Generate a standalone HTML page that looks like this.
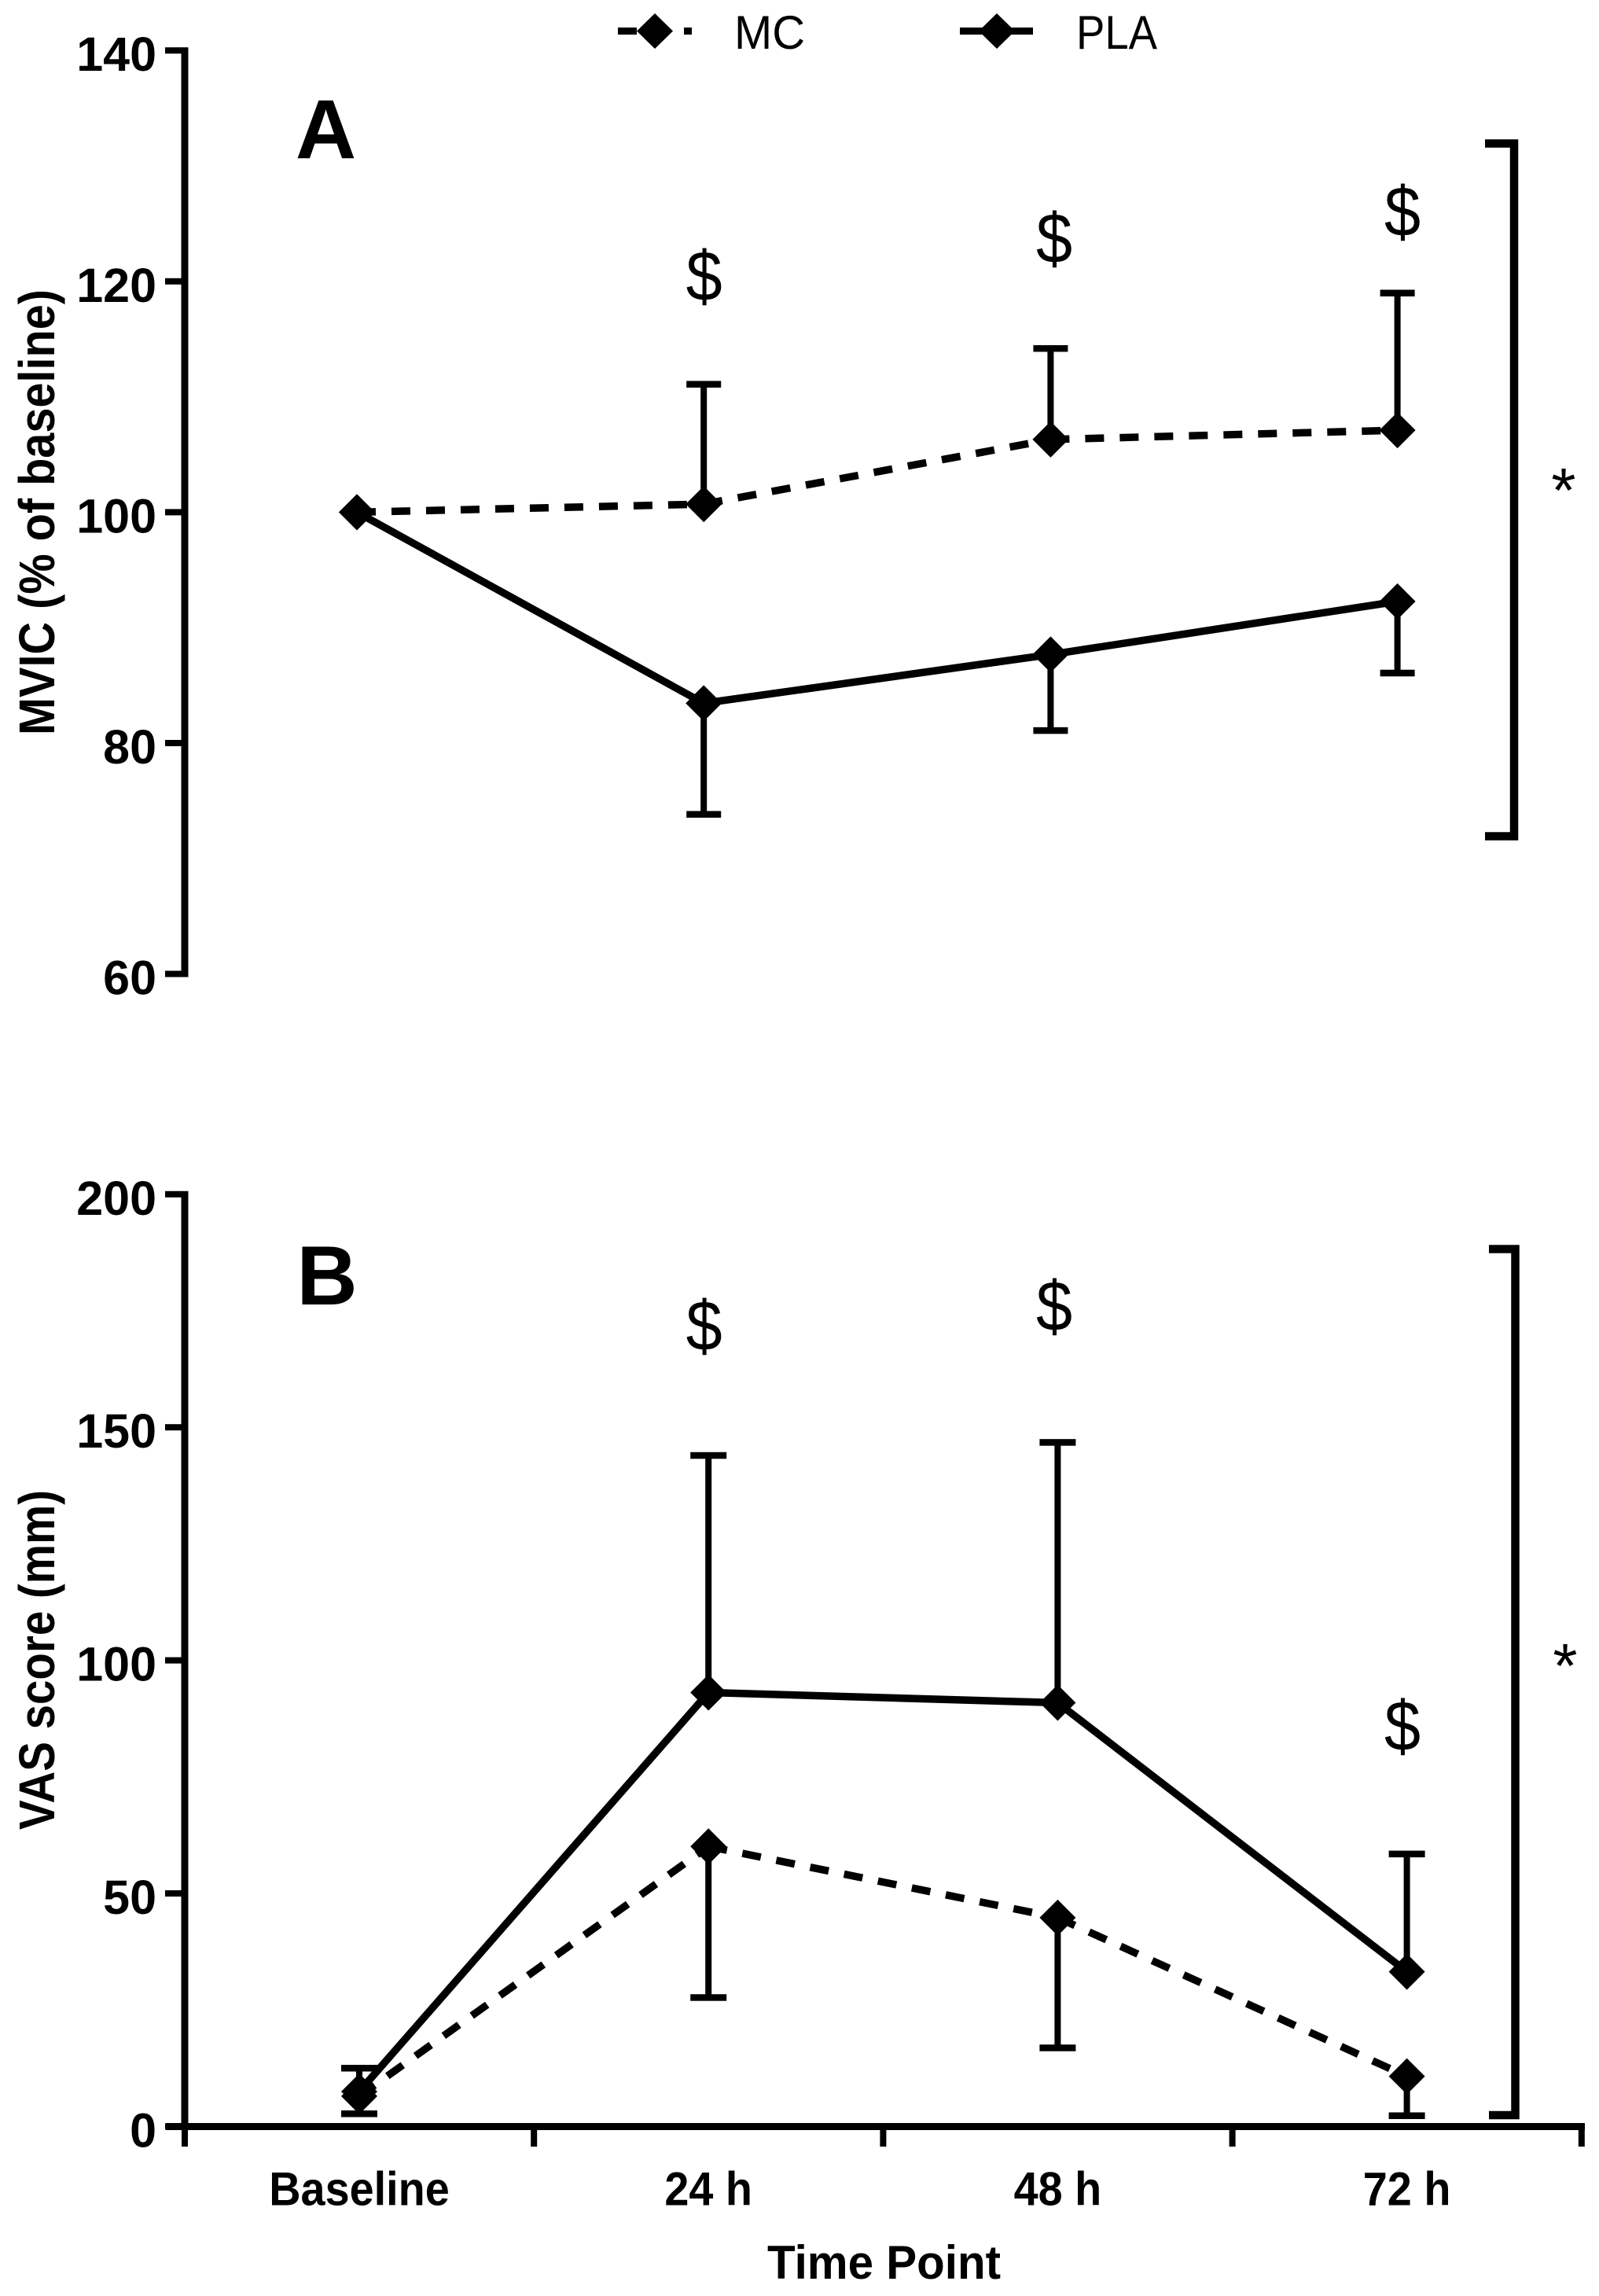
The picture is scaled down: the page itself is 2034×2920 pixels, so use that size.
<!DOCTYPE html>
<html lang="en">
<head>
<meta charset="utf-8">
<title>MVIC and VAS score by time point</title>
<style>
html,body{margin:0;padding:0;background:#fff;width:2034px;height:2920px;overflow:hidden}
svg{display:block}
text{font-family:"Liberation Sans",sans-serif;fill:#000}
</style>
</head>
<body>
<svg id="figure" xmlns="http://www.w3.org/2000/svg" width="2034" height="2920" viewBox="0 0 2034 2920">
  <rect x="0" y="0" width="2034" height="2920" fill="#fff"/>

  <g>
    <g>
      <rect x="786" y="35" width="24" height="9"/>
      <rect x="870" y="35" width="10" height="9"/>
      <path d="M833 17 L856 39.5 L833 62 L810 39.5 Z"/>
      <text x="934" y="62" font-size="60" textLength="90" lengthAdjust="spacingAndGlyphs">MC</text>
    </g>
    <g>
      <rect x="1221" y="35" width="93" height="9"/>
      <path d="M1268 17 L1291 39.5 L1268 62 L1245 39.5 Z"/>
      <text x="1369" y="62" font-size="60" textLength="103" lengthAdjust="spacingAndGlyphs">PLA</text>
    </g>
  </g>

  <text x="414.5" y="201.6" font-size="107" font-weight="bold" text-anchor="middle">A</text>
  <text x="416" y="1659" font-size="107" font-weight="bold" text-anchor="middle">B</text>

  <text transform="translate(69,935) rotate(-90)" font-size="64" font-weight="bold" textLength="567" lengthAdjust="spacingAndGlyphs">MVIC (% of baseline)</text>
  <text transform="translate(69,2327) rotate(-90)" font-size="64" font-weight="bold" textLength="432" lengthAdjust="spacingAndGlyphs">VAS score (mm)</text>
  <text x="976" y="2898" font-size="60" font-weight="bold" textLength="297" lengthAdjust="spacingAndGlyphs">Time Point</text>

  <text transform="translate(895.6,382) scale(0.92,1)" font-size="90" text-anchor="middle">$</text>
  <text transform="translate(1341,334) scale(0.92,1)" font-size="90" text-anchor="middle">$</text>
  <text transform="translate(1784,300) scale(0.92,1)" font-size="90" text-anchor="middle">$</text>
  <text transform="translate(895.6,1717) scale(0.92,1)" font-size="90" text-anchor="middle">$</text>
  <text transform="translate(1341,1692) scale(0.92,1)" font-size="90" text-anchor="middle">$</text>
  <text transform="translate(1784,2226) scale(0.92,1)" font-size="90" text-anchor="middle">$</text>

  <path d="M1889 182.5 H1926 V1063.5 H1889" fill="none" stroke="#000" stroke-width="10.5"/>
  <path d="M1894 1588.5 H1927.5 V2690 H1894" fill="none" stroke="#000" stroke-width="10.5"/>
  <text x="1989" y="651" font-size="80" text-anchor="middle">*</text>
  <text x="1991" y="2146" font-size="80" text-anchor="middle">*</text>

  <g id="plot-a"></g>
  <g id="plot-b"></g>
</svg>

<script>
const categories = ['Baseline', '24 h', '48 h', '72 h'];
const mvicTicks = [140, 120, 100, 80, 60];
const vasTicks = [200, 150, 100, 50, 0];

const mvicMC = [100, 100.7, 106.3, 107.1];
const mvicMCUpper = [null, 111.1, 114.2, 119.0];
const mvicPLA = [100, 83.45, 87.67, 92.27];
const mvicPLALower = [null, 73.84, 81.1, 86.08];

const vasMC = [6.5, 60.07, 44.8, 10.76];
const vasMCLower = [2.77, 27.7, 16.9, 2.35];
const vasPLA = [7.5, 93.1, 90.9, 33.2];
const vasPLAUpper = [12.55, 144, 146.8, 58.5];

const SVG_NS = 'http://www.w3.org/2000/svg';

function yA(v) { return 64.2 + (140 - v) * 14.68; }
function xA(i) { return 454 + i * 441.2; }
function yB(v) { return 2704.4 - v * 5.928; }
function xB(i) { return 457 + i * 444.2; }
function xEdge(i) { return 235 + i * 444.2; }

function make(parent, tag, name) {
  const el = document.createElementNS(SVG_NS, tag);
  
  
  parent.appendChild(el);
  return el;
}

function rect(parent, name, x, y, w, h) {
  const el = make(parent, 'rect', name);
  el.setAttribute('x', x);
  el.setAttribute('y', y);
  el.setAttribute('width', w);
  el.setAttribute('height', h);
  return el;
}

function drawYAxis(parent, prefix, ticks, yFn) {
  const top = yFn(ticks[0]);
  const bottom = yFn(ticks[ticks.length - 1]);
  rect(parent, prefix + '-y-axis-line', 230.5, top - 4, 9, bottom - top + 8);
  ticks.forEach(function (t) {
    rect(parent, prefix + '-y-tick-' + t, 210, yFn(t) - 4, 22, 8);
    const label = make(parent, 'text', prefix + '-y-tick-label-' + t);
    label.setAttribute('transform', 'translate(199,' + (yFn(t) + 26) + ') scale(1,1)');
    label.setAttribute('font-size', '61');
    label.setAttribute('font-weight', 'bold');
    label.setAttribute('text-anchor', 'end');
    label.textContent = String(t);
  });
}

function drawErrorBar(parent, name, x, yFrom, yTo, capW) {
  rect(parent, name + '-stem', x - 4, Math.min(yFrom, yTo), 8, Math.abs(yTo - yFrom));
  rect(parent, name + '-cap', x - capW / 2, yTo - 4, capW, 8.5);
}

function drawSeries(parent, name, values, xFn, yFn, dashed) {
  for (let i = 0; i < values.length - 1; i++) {
    const seg = make(parent, 'line', name + '-segment-' + (i + 1));
    seg.setAttribute('x1', xFn(i));
    seg.setAttribute('y1', yFn(values[i]));
    seg.setAttribute('x2', xFn(i + 1));
    seg.setAttribute('y2', yFn(values[i + 1]));
    seg.setAttribute('stroke', '#000');
    seg.setAttribute('stroke-width', '9.5');
    if (dashed) {
      seg.setAttribute('stroke-dasharray', '24 20');
    }
  }
}

function drawMarkers(parent, name, values, xFn, yFn) {
  values.forEach(function (v, i) {
    const x = xFn(i);
    const y = yFn(v);
    const d = make(parent, 'path', name + '-marker-' + (i + 1));
    d.setAttribute('d', 'M' + x + ' ' + (y - 23) + ' L' + (x + 23) + ' ' + y + ' L' + x + ' ' + (y + 23) + ' L' + (x - 23) + ' ' + y + ' Z');
  });
}

const plotA = document.getElementById('plot-a');
drawYAxis(plotA, 'panel-a', mvicTicks, yA);
categories.forEach(function (c, i) {
  if (mvicMCUpper[i] !== null) {
    drawErrorBar(plotA, 'panel-a-mc-error-' + (i + 1), xA(i), yA(mvicMC[i]), yA(mvicMCUpper[i]), 44);
  }
  if (mvicPLALower[i] !== null) {
    drawErrorBar(plotA, 'panel-a-pla-error-' + (i + 1), xA(i), yA(mvicPLA[i]), yA(mvicPLALower[i]), 44);
  }
});
drawSeries(plotA, 'panel-a-mc-line', mvicMC, xA, yA, true);
drawSeries(plotA, 'panel-a-pla-line', mvicPLA, xA, yA, false);
drawMarkers(plotA, 'panel-a-mc', mvicMC, xA, yA);
drawMarkers(plotA, 'panel-a-pla', mvicPLA, xA, yA);

const plotB = document.getElementById('plot-b');
drawYAxis(plotB, 'panel-b', vasTicks, yB);
rect(plotB, 'x-axis-line', 211, 2700, 1805, 9);
for (let i = 0; i <= categories.length; i++) {
  rect(plotB, 'x-axis-tick-' + i, xEdge(i) - 4, 2704, 8, 26);
}
categories.forEach(function (c, i) {
  const label = make(plotB, 'text', 'x-tick-label-' + (i + 1));
  label.setAttribute('transform', 'translate(' + xB(i) + ',2804.5) scale(0.93,1)');
  label.setAttribute('font-size', '60');
  label.setAttribute('font-weight', 'bold');
  label.setAttribute('text-anchor', 'middle');
  label.textContent = c;
  drawErrorBar(plotB, 'panel-b-pla-error-' + (i + 1), xB(i), yB(vasPLA[i]), yB(vasPLAUpper[i]), 46);
  drawErrorBar(plotB, 'panel-b-mc-error-' + (i + 1), xB(i), yB(vasMC[i]), yB(vasMCLower[i]), 46);
});
drawSeries(plotB, 'panel-b-mc-line', vasMC, xB, yB, true);
drawSeries(plotB, 'panel-b-pla-line', vasPLA, xB, yB, false);
drawMarkers(plotB, 'panel-b-mc', vasMC, xB, yB);
drawMarkers(plotB, 'panel-b-pla', vasPLA, xB, yB);
</script>
</body>
</html>
